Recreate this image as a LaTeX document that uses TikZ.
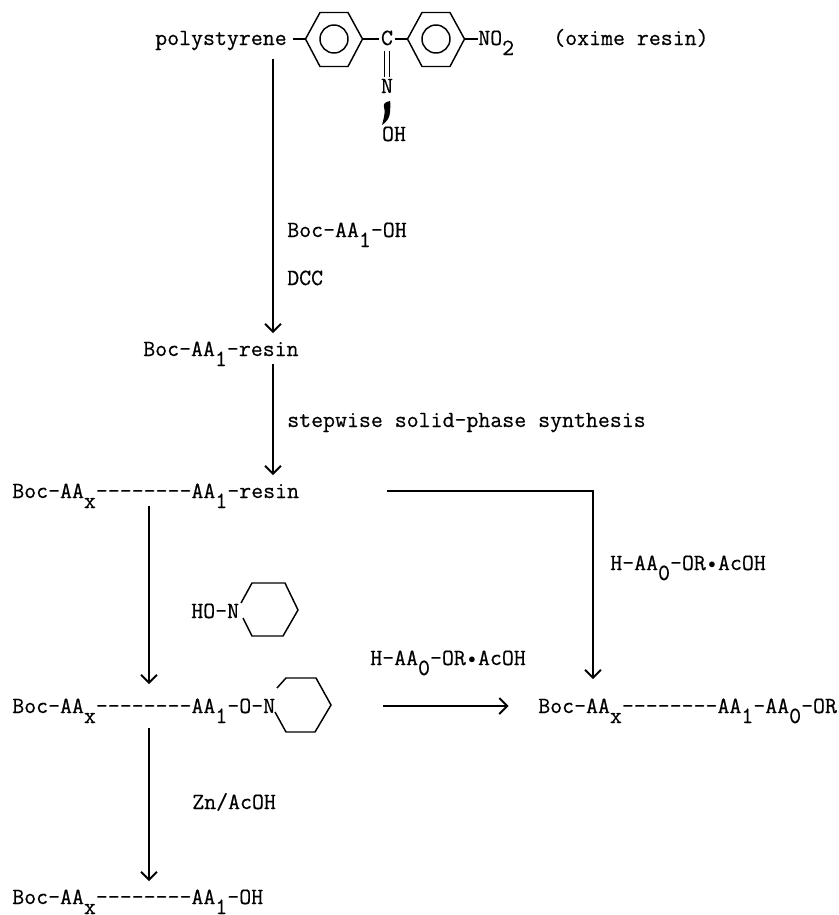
\documentclass[tikz,border=0pt]{standalone}
\usepackage{fontspec}
\setmonofont{Latin Modern Mono}[FakeBold=0.5]
\usetikzlibrary{arrows.meta}
\newcommand{\lowr}[1]{\raisebox{-7.5pt}[0pt][0pt]{#1}}
\newcommand{\chain}{{-}{-}{-}{-}{-}{-}{-}{-}}
\newcommand{\middot}{\makebox[9.13pt]{\raisebox{1.5pt}{\fontsize{11}{12}\selectfont$\bullet$}}}
\begin{document}
\begin{tikzpicture}[x=0.75pt,y=-0.75pt,
  every node/.style={font=\fontsize{17.4}{20}\selectfont\ttfamily,inner xsep=0pt,inner ysep=6pt,anchor=base west},
  bond/.style={line width=1.1pt},
  react/.style={line width=1.5pt,-{Straight Barb[length=6pt,width=12pt,line width=1.5pt]}}]
\useasboundingbox (0,0) rectangle (839,915);
\coordinate (tx) at (273,0);
\coordinate (lx) at (149,0);
\coordinate (rx) at (593,0);
% resin at the top with its two rings
\node (poly) at (155,45) {polystyrene};
\node[inner sep=1pt,anchor=base] (cc) at (387,45) {C};
\node[inner sep=1pt,anchor=base] (nn) at (387,93) {N};
\node[inner sep=1pt,anchor=base] (oh) at (394,141) {OH};
\node[inner ysep=1pt] (notwo) at (478,45) {NO\lowr{2}};
\node (oxime) at (553,45) {(oxime resin)};
\foreach \n/\cx in {a/334,b/436} {
  \draw[bond] (\cx-28.5,39)--(\cx-14,12.5)--(\cx+14,12.5)--(\cx+28.5,39)--(\cx+14,66.5)--(\cx-14,66.5)--cycle;
  \node[draw,circle,line width=1.1pt,minimum size=21pt,inner sep=0pt,anchor=center] (ring\n) at (\cx,39) {};
  \coordinate (left\n) at (\cx-28.5,39);
  \coordinate (right\n) at (\cx+28.5,39);
}
\draw[bond] (poly.east |- lefta) ++(6,0) -- (lefta);
\draw[bond] (righta) -- (cc.west |- righta);
\draw[bond] (cc.east |- rightb) -- (leftb);
\draw[bond] (rightb) -- (notwo.west |- rightb);
\draw[bond,shorten <=3pt] ([xshift=-1.9pt]cc.south) -- ([xshift=-1.9pt]nn.north);
\draw[bond,shorten <=3pt] ([xshift=1.9pt]cc.south) -- ([xshift=1.9pt]nn.north);
\fill (390,101) .. controls (385,102) and (383,104) .. (384,107) .. controls (385,111) and (385,114) .. (382,125) .. controls (387,122) and (390,117) .. (390,112) .. controls (390,108) and (391,105) .. (390,101) -- cycle;
% the products, top to bottom
\node (bocone) at (143,356) {Boc-AA\lowr{1}-resin};
\node (rowc) at (12,498) {Boc-AA\lowr{x}\chain AA\lowr{1}-resin};
\node (rowd) at (12,713) {Boc-AA\lowr{x}\chain AA\lowr{1}-O-N};
\node (rowe) at (12,904) {Boc-AA\lowr{x}\chain AA\lowr{1}-OH};
\node (rowr) at (538,713) {Boc-AA\lowr{x}\chain AA\lowr{1}-AA\lowr{0}-OR};
% reagents
\node (boclab) at (287,237) {Boc-AA\lowr{1}-OH};
\node (dcclab) at (287,285) {DCC};
\node (steplab) at (287,427) {stepwise solid-phase synthesis};
\node (hrlab) at (610,570) {H-AA\lowr{0}-OR\middot AcOH};
\node (holab) at (191,618) {HO-N};
\node (hmlab) at (370,665) {H-AA\lowr{0}-OR\middot AcOH};
\node (znlab) at (192,809) {Zn/AcOH};
% piperidine rings
\draw[bond] (241,603)--(252,583)--(285,583)--(298,610)--(283,636)--(252,636)--(243,618);
\draw[bond] (277,688)--(286,678)--(316,678)--(331,705)--(315,732)--(286,732)--(275,712);
% arrows
\coordinate (rcs) at (387,491);
\coordinate (hs) at (383,706);
\draw[react] (poly.south -| tx) -- (bocone.north -| tx);
\draw[react] (bocone.south -| tx) -- (rowc.north -| tx);
\draw[react,shorten >=4.5pt] (rowc.south -| lx) -- (rowd.north -| lx);
\draw[react,shorten <=5pt] (rowd.south -| lx) -- (rowe.north -| lx);
\draw[react,shorten >=8.25pt] (rcs) -| (rowr.north -| rx);
\draw[react,shorten >=22pt] (hs) -- (hs -| rowr.west);
\end{tikzpicture}
\end{document}
